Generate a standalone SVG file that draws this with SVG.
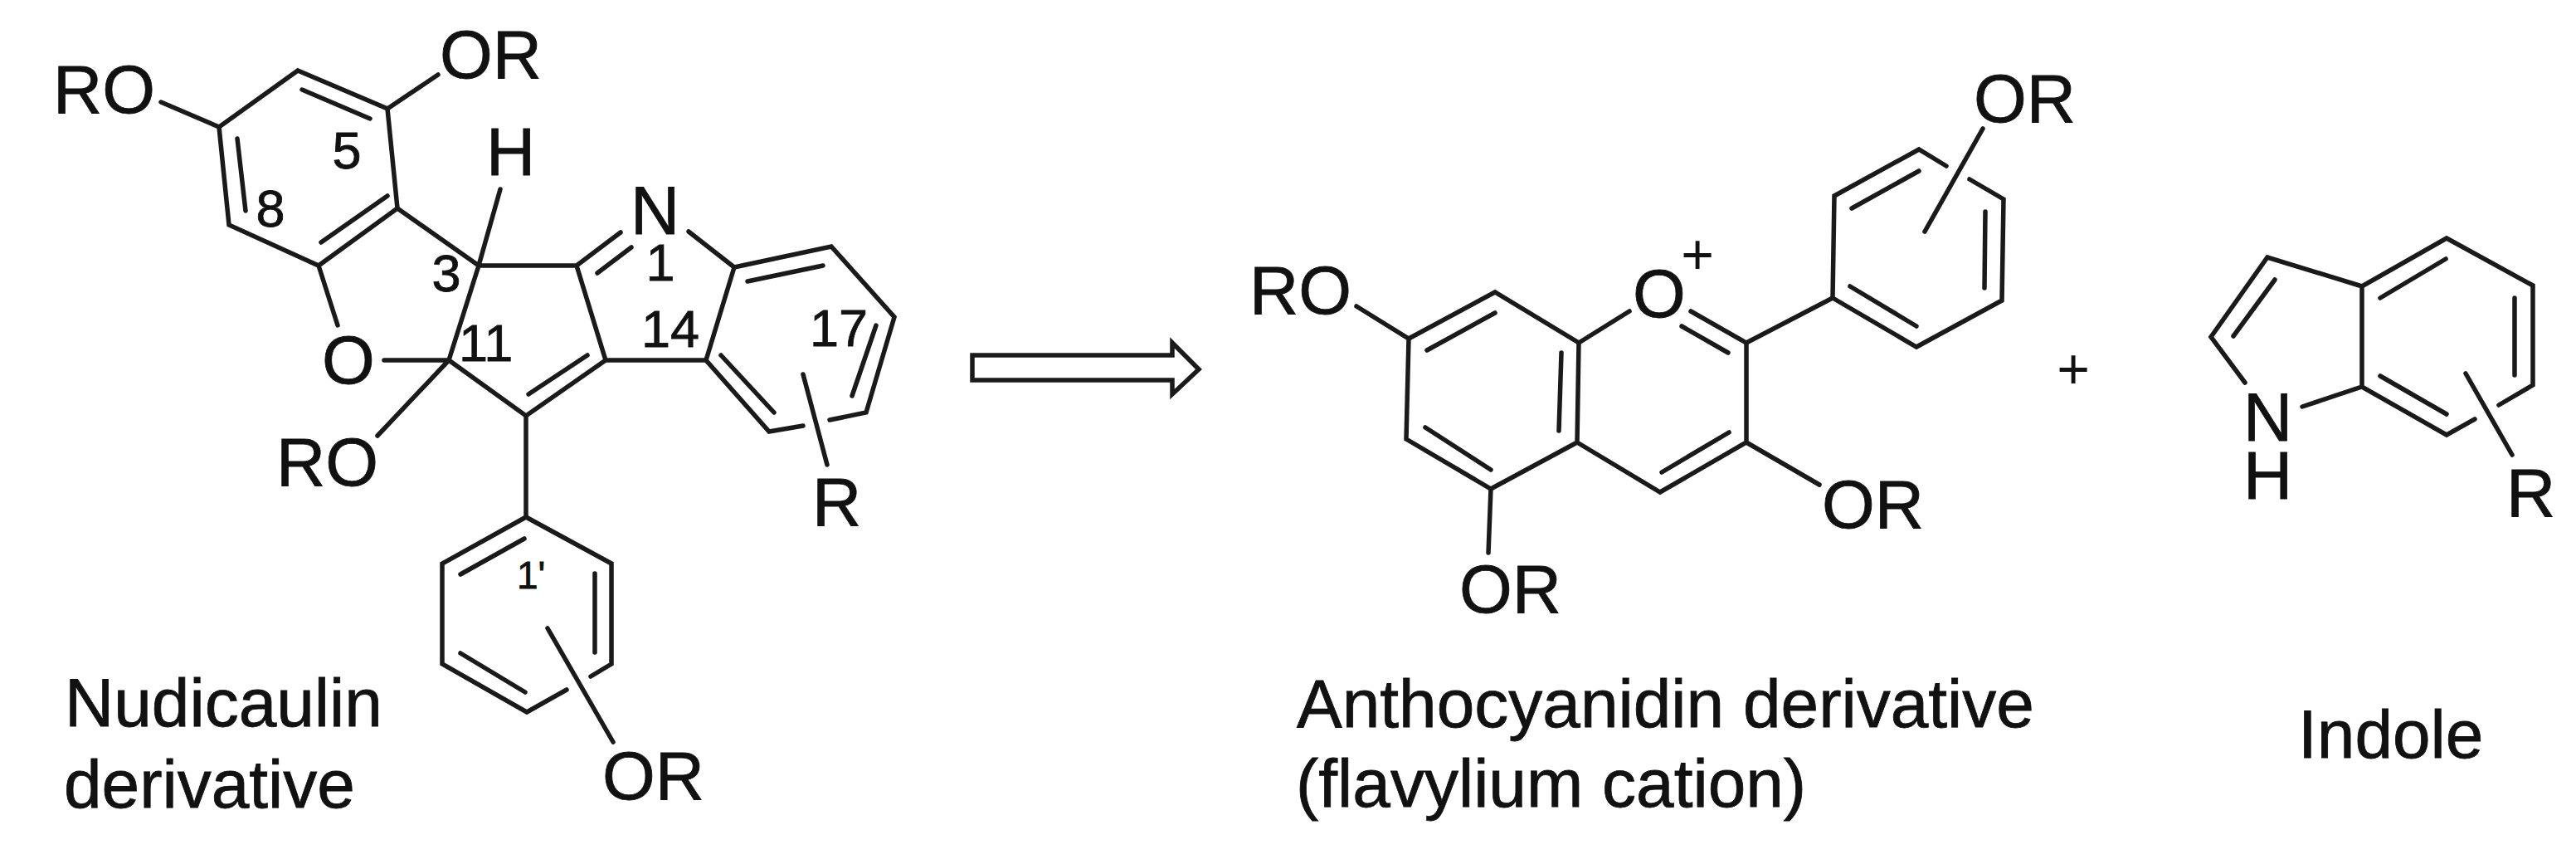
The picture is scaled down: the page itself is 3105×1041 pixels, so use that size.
<svg xmlns="http://www.w3.org/2000/svg" width="3105" height="1041" viewBox="0 0 3105 1041">
<style>
text{font-family:"Liberation Sans",Arial,sans-serif;fill:#111;stroke:#111;stroke-width:.8}
.a{font-size:82px}
.n{font-size:63px}
.s{font-size:46px}
.p{font-size:68px;stroke-width:0}
.m{text-anchor:middle}
.b{fill:none;stroke:#1a1a1a;stroke-width:5.5;stroke-linecap:round;stroke-linejoin:miter}
</style>
<rect width="3105" height="1041" fill="#fff"/>
<g id="connectors" class="b">
<path d="M359 85L467 131L479 251L384 320L276 271L264 153ZM364 108L446 143M286 167L296 254M387 292L467 236M467 131L528 90M264 153L194 123M479 251L577 320M384 320L407 392M463 434L541 434M577 320L541 434M577 320L603 228M577 320L695 320L748 280M720 329L761 298M830 279L885 322L1002 297L1078 382L1044 497L1000 506M968 513L927 520L851 434L885 322M901 339L992 320M1056 392L1027 477M869 428L933 497M968 451L997 560M695 320L730 434L851 434M730 434L634 501L541 434L455 525M637 475L708 428M634 501L634 623"/>
<path d="M712 815L737 800L737 679L634 623L533 679L533 800L635 858L683 831M555 692L632 649M717 691L717 786M555 787L633 834M660 757L739 894"/>
<path d="M1635 369L1698 408L1802 352L1903 413L1901 533L1797 589L1695 529L1698 408M1720 422L1802 377M1882 425L1879 519M1718 515L1797 566M1903 413L1964 375M2038 375L2105 413L2105 533L2001 593L1901 533M2027 393L2083 425M2003 569L2084 521M1797 589L1794 666M2105 413L2209 359M2105 533L2193 584"/>
<path d="M2209 359L2211 236L2313 180L2346 200M2374 216L2415 240L2413 362L2310 418L2209 359M2232 251L2313 206M2393 255L2392 347M2230 345L2310 393M2390 155L2320 279"/>
<path d="M2706 461L2665 406L2733 310L2847 345L2949 287L3053 344L3053 464L3012 488M2983 505L2949 524L2847 466L2775 490M2847 345L2847 466M2742 337L2692 405M2869 359L2948 312M3031 359L3031 452M2869 453L2949 499M2972 450L3028 548"/>
<path id="arrow" d="M1172 428H1413V413L1445 445L1413 475V458H1172Z"/>
</g>
<g id="nudicaulin">
<text class="a" x="64" y="136">RO</text>
<text class="a" x="530" y="94">OR</text>
<text class="a" x="586" y="211">H</text>
<text class="a" x="760" y="282">N</text>
<text class="a m" x="420" y="462">O</text>
<text class="a" x="333" y="585">RO</text>
<text class="a" x="979" y="633">R</text>
<text class="a" x="726" y="963">OR</text>
<text class="n m" x="418" y="203">5</text>
<text class="n m" x="326" y="273">8</text>
<text class="n m" x="796" y="338">1</text>
<text class="n m" x="538" y="351">3</text>
<text class="n" x="553" y="435">11</text>
<text class="n" x="773" y="418">14</text>
<text class="n" x="976" y="417">17</text>
<text class="s" x="623" y="709">1'</text>
<text class="a" x="78" y="875">Nudicaulin</text>
<text class="a" x="77" y="973">derivative</text>
</g>
<g id="anthocyanidin">
<text class="a" x="1506" y="378">RO</text>
<text class="a m" x="2000" y="382">O</text>
<text class="p m" x="2046" y="330">+</text>
<text class="a" x="1759" y="738">OR</text>
<text class="a" x="2379" y="147">OR</text>
<text class="a" x="2196" y="636">OR</text>
<text class="a" x="1563" y="876">Anthocyanidin derivative</text>
<text class="a" x="1562" y="972">(flavylium cation)</text>
</g>
<g id="plus"><text class="p m" x="2499" y="468">+</text></g>
<g id="indole">
<text class="a" x="2704" y="531">N</text>
<text class="a" x="2704" y="601">H</text>
<text class="a" x="3021" y="622">R</text>
<text class="a" x="2770" y="913">Indole</text>
</g>
</svg>
